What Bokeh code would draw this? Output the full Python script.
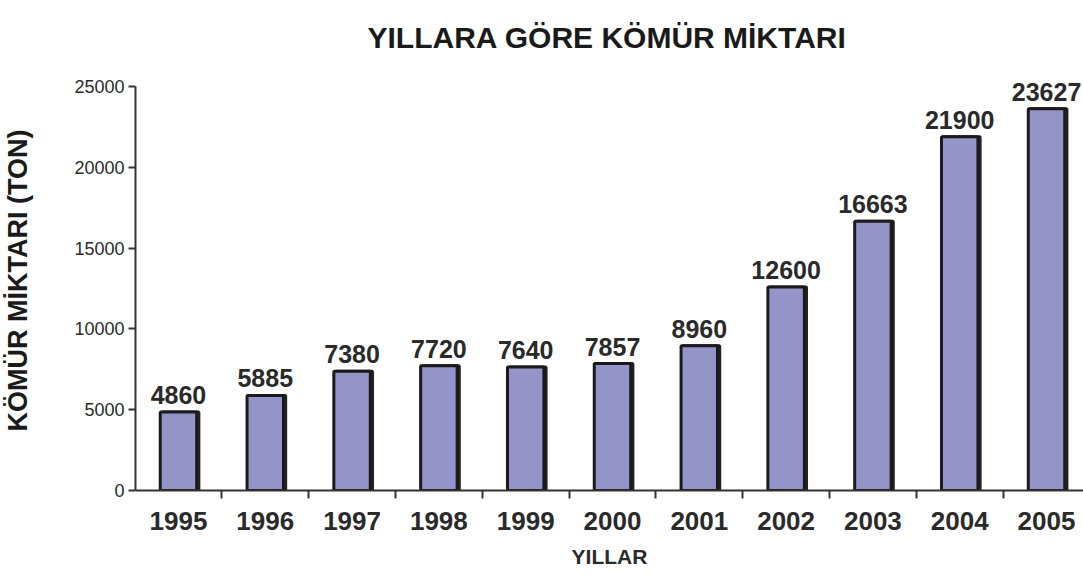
from bokeh.plotting import figure
from bokeh.models import ColumnDataSource, FixedTicker, Range1d, Title
from bokeh.transform import dodge
from bokeh.embed import file_html
from bokeh.resources import INLINE
from bokeh.core.properties import value

years = [1995, 1996, 1997, 1998, 1999, 2000, 2001, 2002, 2003, 2004, 2005]
amounts = [4860, 5885, 7380, 7720, 7640, 7857, 8960, 12600, 16663, 21900, 23627]
labels = [str(v) for v in amounts]
y_ticks = [0, 5000, 10000, 15000, 20000, 25000]

src = ColumnDataSource(dict(x=years, top=amounts, lab=labels))

p = figure(width=1083, height=576, output_backend="svg", toolbar_location=None,
           x_range=Range1d(1994.505, 2005.426), y_range=Range1d(0, 26000),
           min_border_left=135, min_border_right=0, min_border_top=70, min_border_bottom=86)

p.title = Title(text="YILLARA GÖRE KÖMÜR MİKTARI", align="left",
                text_font="Liberation Sans", text_font_size="30px",
                text_font_style="bold", text_color="#1a1a1a", offset=232, standoff=34)

p.grid.visible = False
p.outline_line_color = None

# shadow
p.vbar(x=dodge("x", 0.025, range=p.x_range), top="top", bottom=0, width=0.42, source=src,
       fill_color="#222222", line_color="#222222", line_width=3)
p.vbar(x="x", top="top", bottom=0, width=0.42, source=src,
       fill_color="#9494C9", line_color="#1a1a1a", line_width=3)

p.text(x="x", y="top", text="lab", source=src, text_align="center", text_baseline="bottom",
       y_offset=-8, text_font=value("Liberation Sans"), text_font_style="bold",
       text_font_size="25px", text_color="#2a2a2a")

xa = p.xaxis[0]
xa.ticker = FixedTicker(ticks=years, minor_ticks=[y - 0.5 for y in years] + [2005.5])
xa.major_tick_in = 0
xa.major_tick_out = 0
xa.minor_tick_in = 0
xa.minor_tick_out = 8
xa.minor_tick_line_color = "#333333"
xa.minor_tick_line_width = 2
xa.axis_line_color = "#333333"
xa.axis_line_width = 2
xa.major_label_text_font = "Liberation Sans"
xa.major_label_text_font_style = "bold"
xa.major_label_text_font_size = "26px"
xa.major_label_text_color = "#2a2a2a"
xa.major_label_standoff = 13
xa.axis_label = "YILLAR"
xa.axis_label_text_font = "Liberation Sans"
xa.axis_label_text_font_style = "bold"
xa.axis_label_text_font_size = "21px"
xa.axis_label_text_color = "#2a2a2a"
xa.axis_label_standoff = 12

ya = p.yaxis[0]
ya.ticker = FixedTicker(ticks=y_ticks, minor_ticks=[])
ya.bounds = (0, 25000)
ya.major_tick_in = 0
ya.major_tick_out = 7
ya.major_tick_line_color = "#333333"
ya.major_tick_line_width = 2
ya.axis_line_color = "#333333"
ya.axis_line_width = 2
ya.major_label_text_font = "Liberation Sans"
ya.major_label_text_font_style = "normal"
ya.major_label_text_font_size = "18px"
ya.major_label_text_color = "#2a2a2a"
ya.major_label_standoff = 4
ya.axis_label = "KÖMÜR MİKTARI (TON)"
ya.axis_label_text_font = "Liberation Sans"
ya.axis_label_text_font_style = "bold"
ya.axis_label_text_font_size = "27px"
ya.axis_label_text_color = "#1a1a1a"
ya.axis_label_standoff = 38

open("out.html", "w").write(file_html(p, INLINE))
